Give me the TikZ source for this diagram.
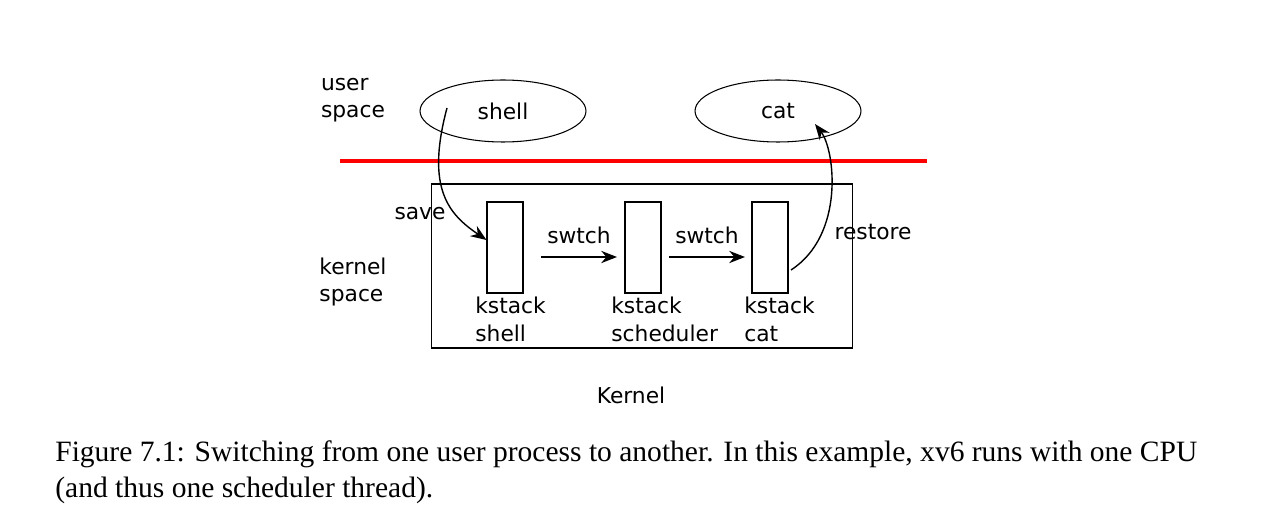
\documentclass[tikz,border=0pt]{standalone}
\usepackage{fontspec}
\setmainfont{DejaVu Sans}
\newfontfamily\capfont{Liberation Serif}
\usetikzlibrary{arrows.meta,positioning,shapes.geometric}

\begin{document}
\begin{tikzpicture}[x=0.02cm,y=-0.02cm,
  lbl/.style={font=\fontsize{12.4}{15.5}\selectfont,align=left,inner sep=0pt},
  proc/.style={draw,semithick,ellipse,minimum width=3.32cm,minimum height=1.24cm,font=\fontsize{12.4}{15}\selectfont},
  stk/.style={draw,semithick,minimum width=0.72cm,minimum height=1.82cm,inner sep=0pt},
  arr/.style={-{Stealth[length=9pt,width=7pt]},thick}]
  \useasboundingbox (0,0) rectangle (1276,530);
  % user space
  \node[lbl] (us) at (353,100) {user\\space};
  \node[proc] (shell) at (503,111) {shell};
  \node[proc] (cat) at (778,111) {\hspace*{0pt}cat};
  \coordinate (rl) at (340,161);
  \coordinate (rr) at (927,161);
  \draw[red,line width=1.8pt] (rl) -- (rr);
  % kernel
  \node[draw,semithick,minimum width=8.44cm,minimum height=3.28cm,inner sep=0pt] (kern) at (642,266) {};
  \node[lbl] (ks) at (353,282) {kernel\\space};
  \node[stk] (s1) at (505,247.5) {};
  \node[stk] (s2) at (643,247.5) {};
  \node[stk] (s3) at (770,247.5) {};
  \node[lbl,anchor=north west] (l1) at (475,297) {kstack\\shell};
  \node[lbl,anchor=north west] (l2) at (611,297) {kstack\\scheduler};
  \node[lbl,anchor=north west] (l3) at (744,297) {kstack\\cat};
  \coordinate (a1) at (541,257);
  \coordinate (a2) at (669,257);
  \draw[arr] (a1) -- (617,257) node[lbl,midway,above=7pt] {swtch};
  \draw[arr] (a2) -- (745,257) node[lbl,midway,above=7pt] {swtch};
  % save / restore
  \coordinate (sv) at (447,108);
  \draw[arr] (sv) .. controls (425,190) and (450,215) .. (s1.west |- 0,240);
  \node[lbl] (svl) at (420,214) {save};
  \coordinate (rs) at (791,270);
  \coordinate (rt) at (815,124);
  \draw[arr] (rs) .. controls (845,235) and (835,150) .. (rt);
  \node[lbl] (rsl) at (873,232) {restore};
  \node[lbl] (kl) at (631,395) {Kernel};
  % caption
  \node[anchor=north west,align=left,inner sep=0pt,font=\capfont\fontsize{16.8}{20.5}\selectfont] (cap) at (55,440)
    {Figure 7.1: Switching from one user process to another. In this example, xv6 runs with one CPU\\(and thus one scheduler thread).};
\end{tikzpicture}
\end{document}
